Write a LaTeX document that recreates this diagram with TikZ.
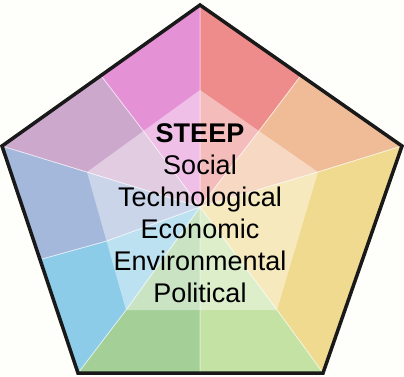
\documentclass[tikz,border=0pt]{standalone}
\usepackage{fontspec}
\setmainfont{Liberation Sans}
\usetikzlibrary{calc}

\definecolor{bgcream}{RGB}{254,254,250}
\definecolor{segsalmon}{RGB}{238,140,140}
\definecolor{segpeach}{RGB}{240,188,152}
\definecolor{segyellow}{RGB}{240,218,144}
\definecolor{seglime}{RGB}{196,226,164}
\definecolor{seggreen}{RGB}{164,208,152}
\definecolor{segsky}{RGB}{140,204,232}
\definecolor{segslate}{RGB}{164,184,220}
\definecolor{segmauve}{RGB}{204,168,204}
\definecolor{segmagenta}{RGB}{228,145,214}

\begin{document}
\begin{tikzpicture}[x=1pt,y=-1pt,
  region/.style={draw=white,draw opacity=0.55,line width=0.8pt,line join=round}]

\useasboundingbox[fill=bgcream] (0,0) rectangle (404,376);

% outer pentagon corners
\coordinate (T) at (200,5);
\coordinate (R) at (402,146);
\coordinate (BR) at (323,373);
\coordinate (BL) at (78,373);
\coordinate (L) at (2,146);

% inner pentagon corners and its centre
\coordinate (iT) at (200,90);
\coordinate (iR) at (318,172);
\coordinate (iBR) at (277,310);
\coordinate (iBL) at (126,310);
\coordinate (iL) at (87,172);
\coordinate (iC) at (200,207);

% edge midpoints
\coordinate (mTR) at ($(T)!0.5!(R)$);
\coordinate (mB) at (200,373);
\coordinate (mBL) at ($(BL)!0.5!(L)$);
\coordinate (mTL) at ($(L)!0.5!(T)$);
\coordinate (imTR) at ($(iT)!0.5!(iR)$);
\coordinate (imB) at (200,310);
\coordinate (imBL) at ($(iBL)!0.5!(iL)$);
\coordinate (imTL) at ($(iL)!0.5!(iT)$);

% coloured segments
\filldraw[region,fill=segsalmon] (T) -- (mTR) -- (imTR) -- (iC) -- (iT) -- cycle;
\filldraw[region,fill=segpeach] (mTR) -- (R) -- (iR) -- (iC) -- (imTR) -- cycle;
\filldraw[region,fill=segyellow] (R) -- (BR) -- (iBR) -- (iC) -- (iR) -- cycle;
\filldraw[region,fill=seglime] (BR) -- (mB) -- (imB) -- (iC) -- (iBR) -- cycle;
\filldraw[region,fill=seggreen] (mB) -- (BL) -- (iBL) -- (iC) -- (imB) -- cycle;
\filldraw[region,fill=segsky] (BL) -- (mBL) -- (imBL) -- (iC) -- (iBL) -- cycle;
\filldraw[region,fill=segslate] (mBL) -- (L) -- (iL) -- (iC) -- (imBL) -- cycle;
\filldraw[region,fill=segmauve] (L) -- (mTL) -- (imTL) -- (iC) -- (iL) -- cycle;
\filldraw[region,fill=segmagenta] (mTL) -- (T) -- (iT) -- (iC) -- (imTL) -- cycle;

% lighter inner pentagon
\fill[white,opacity=0.42] (iT) -- (iR) -- (iBR) -- (iBL) -- (iL) -- cycle;

% outline
\draw[line width=3.5pt,color=black!90,line join=miter] (T) -- (R) -- (BR) -- (BL) -- (L) -- cycle;

\node[align=center,inner sep=0pt,font=\fontsize{27}{32}\selectfont] (steep) at (200,213)
  {\textbf{STEEP}\\Social\\Technological\\Economic\\Environmental\\Political};

\end{tikzpicture}
\end{document}
